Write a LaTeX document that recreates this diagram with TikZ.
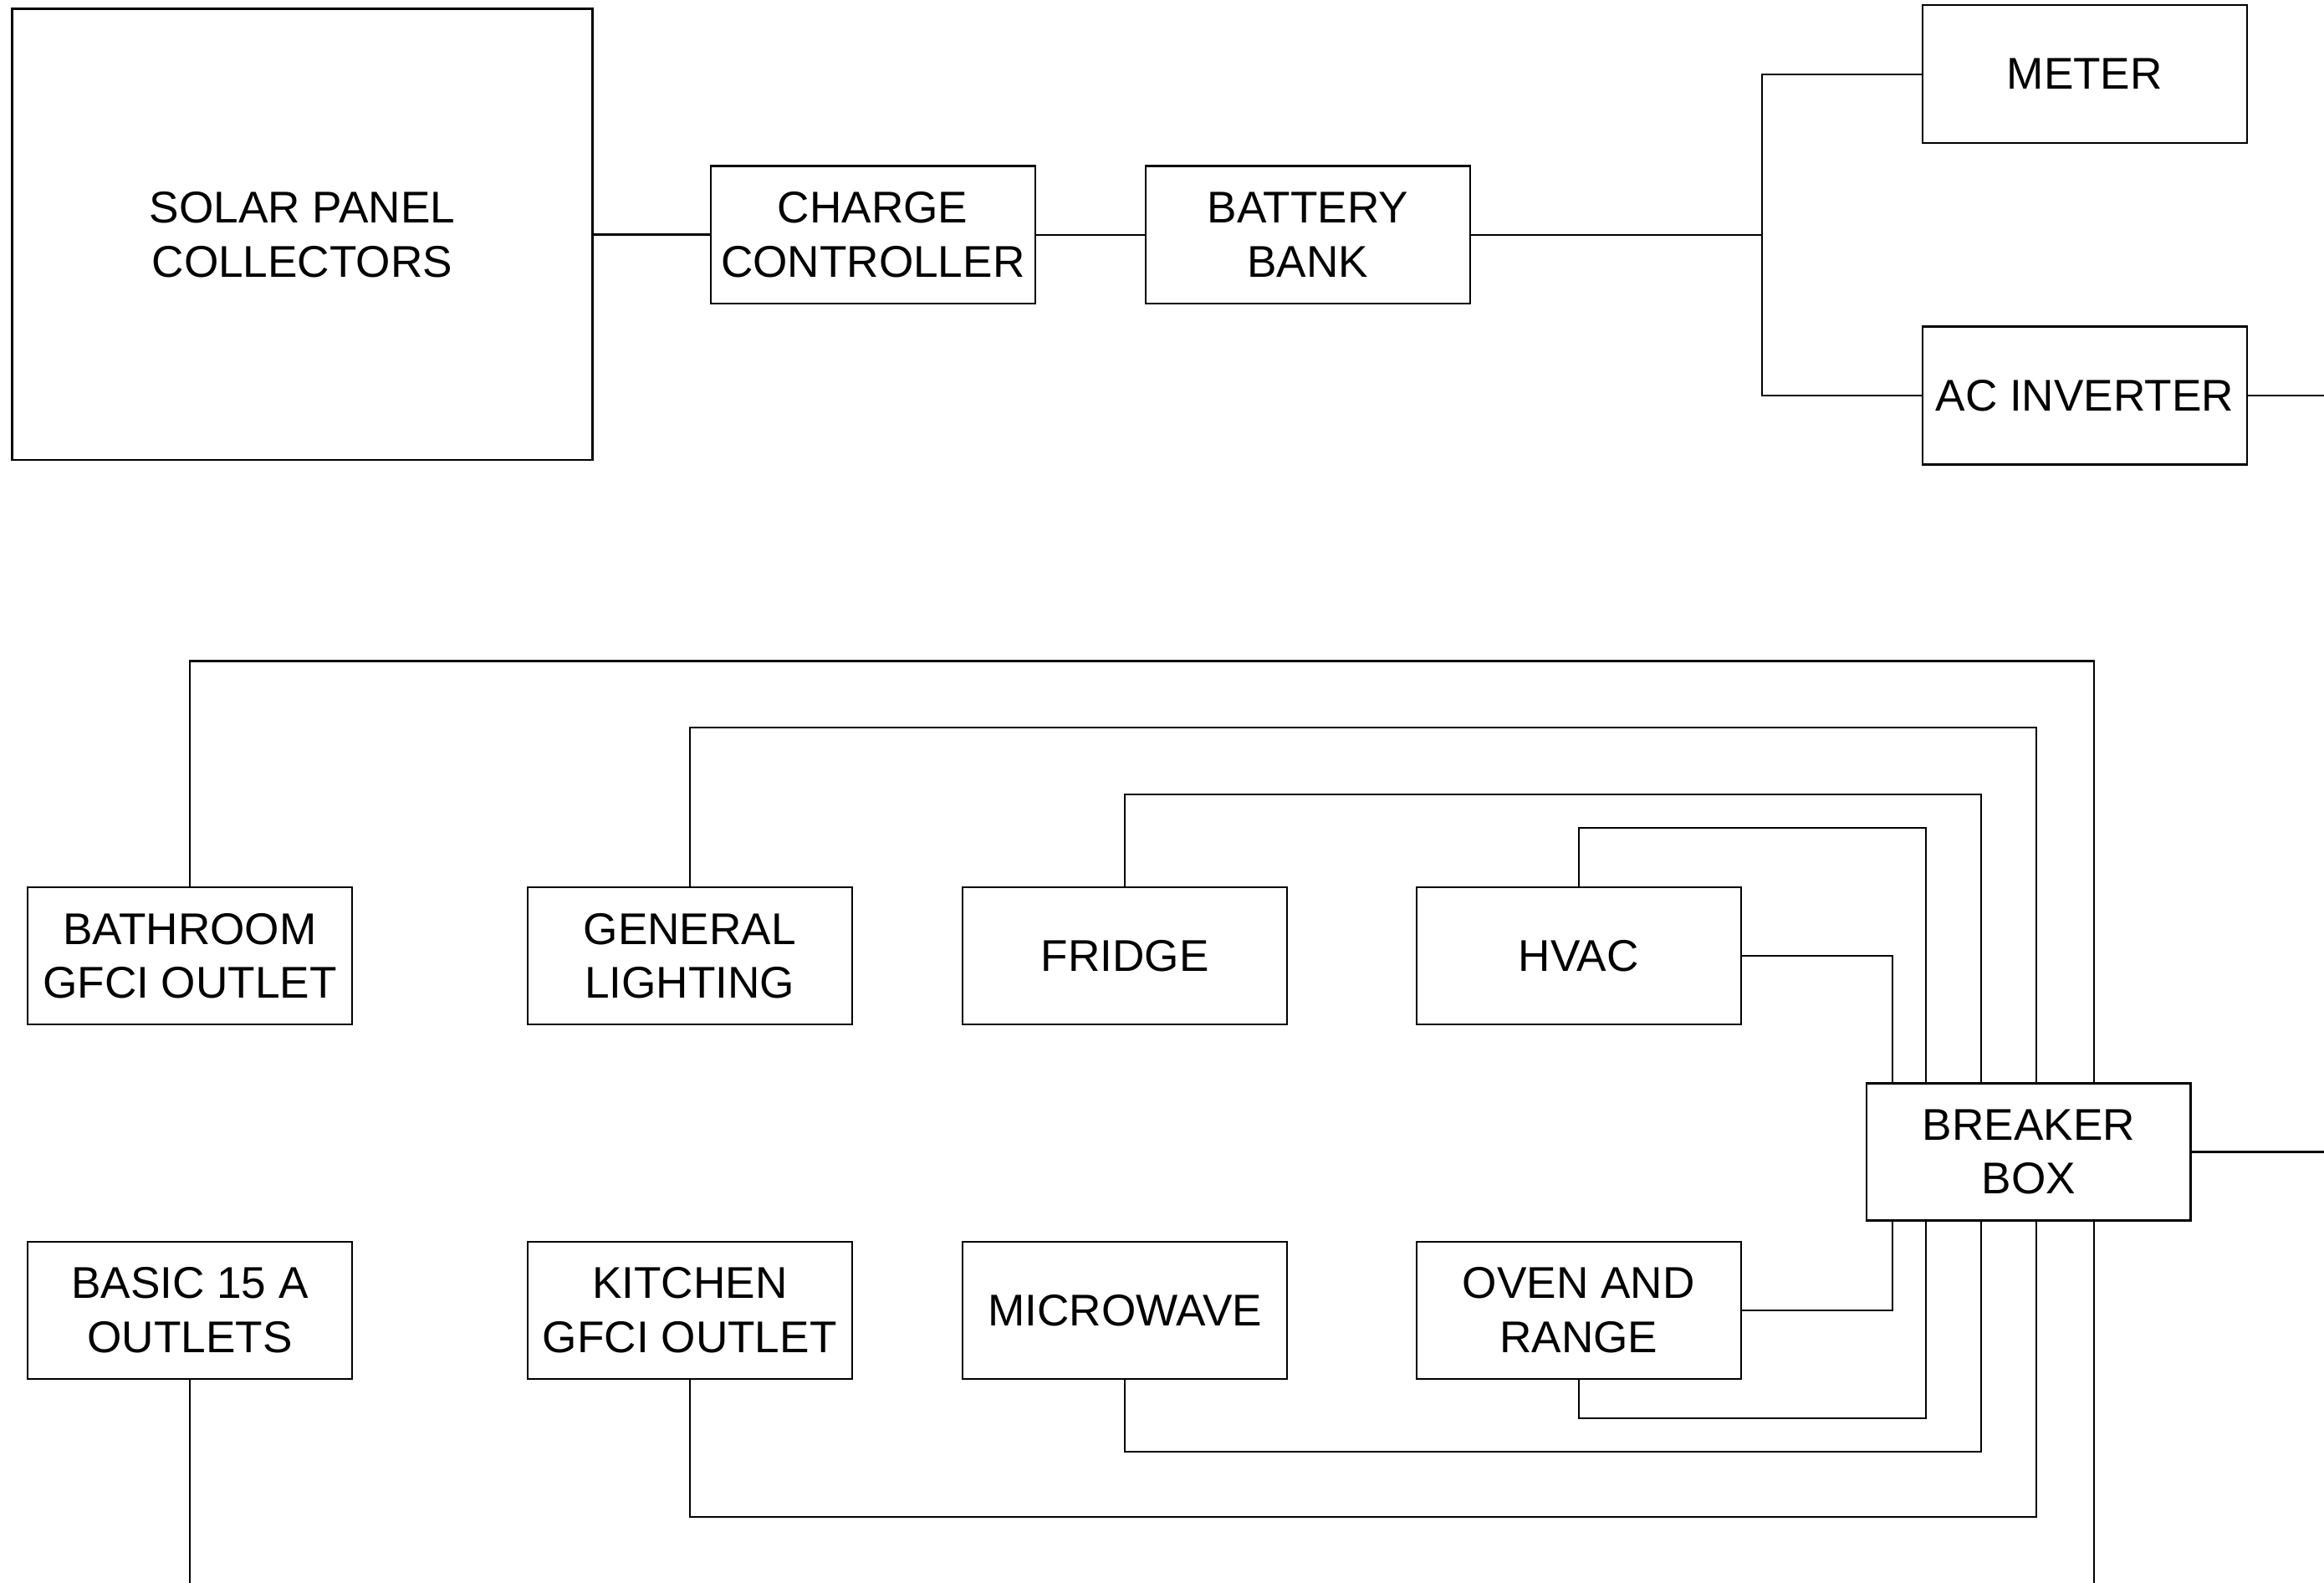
\documentclass[tikz,border=0pt]{standalone}
\usepackage{fontspec}
\setmainfont{Liberation Sans}
\begin{document}
\begin{tikzpicture}[x=1pt,y=-1pt,
  box/.style={draw, line width=1.3pt, rectangle, inner sep=0pt,
    minimum width=219pt, minimum height=92.5pt, align=center,
    font=\fontsize{30}{36.5}\selectfont},
  wire/.style={line width=1.2pt}]
\useasboundingbox (0,0) rectangle (1568,1068);
% top chain
\node[box, minimum width=391.6pt, minimum height=304.5pt] (solar) at (203.9,158.25) {SOLAR PANEL\\COLLECTORS};
\node[box, minimum height=93pt] (cc) at (588.9,158.5) {CHARGE\\CONTROLLER};
\node[box, minimum height=93pt] (bat) at (882.35,158.5) {BATTERY\\BANK};
\node[box, minimum height=93pt] (meter) at (1406.5,50) {METER};
\node[box, minimum height=93pt] (inv) at (1406.5,266.85) {AC INVERTER};
\coordinate (split) at (1189,158.5);
\coordinate (invout) at (1568,266.85);
\draw[wire] (solar.east) -- (solar.east -| cc.west);
\draw[wire] (cc.east) -- (bat.west);
\draw[wire] (bat.east) -- (split);
\draw[wire] (meter.west) -| (split) |- (inv.west);
\draw[wire] (inv.east) -- (invout);
% loads
\node[box] (bath) at (128.05,645) {BATHROOM\\GFCI OUTLET};
\node[box] (gen) at (465.35,645) {GENERAL\\LIGHTING};
\node[box] (fridge) at (758.95,645) {FRIDGE};
\node[box] (hvac) at (1065.1,645) {HVAC};
\node[box] (basic) at (128.05,884) {BASIC 15 A\\OUTLETS};
\node[box] (kit) at (465.35,884) {KITCHEN\\GFCI OUTLET};
\node[box] (micro) at (758.95,884) {MICROWAVE};
\node[box] (oven) at (1065.1,884) {OVEN AND\\RANGE};
\node[box, minimum width=218.5pt] (brk) at (1368.75,777.25) {BREAKER\\BOX};
\coordinate (brkout) at (1568,777.25);
\coordinate (basicend) at (128.05,1068);
\coordinate (brkend) at (1413,1068);
% feeders above breaker
\draw[wire] (bath.north) |- (1413,446) -- (1413,0 |- brk.north);
\draw[wire] (gen.north) |- (1374,491) -- (1374,0 |- brk.north);
\draw[wire] (fridge.north) |- (1336.5,536) -- (1336.5,0 |- brk.north);
\draw[wire] (hvac.north) |- (1299.5,558.5) -- (1299.5,0 |- brk.north);
\draw[wire] (hvac.east) -| (1277,0 |- brk.north);
% feeders below breaker
\draw[wire] (oven.east) -| (1277,0 |- brk.south);
\draw[wire] (oven.south) |- (1299.5,957) -- (1299.5,0 |- brk.south);
\draw[wire] (micro.south) |- (1336.5,979.5) -- (1336.5,0 |- brk.south);
\draw[wire] (kit.south) |- (1374,1023.5) -- (1374,0 |- brk.south);
\draw[wire] (1413,0 |- brk.south) -- (brkend);
\draw[wire] (basic.south) -- (basicend);
\draw[wire] (brk.east) -- (brkout);
\end{tikzpicture}
\end{document}
